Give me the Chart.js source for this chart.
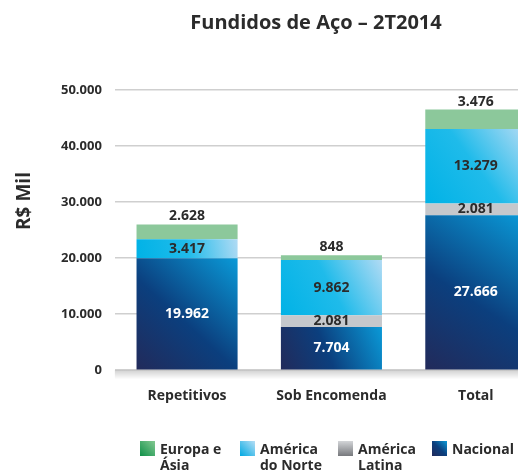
<!DOCTYPE html>
<html>
<head>
<meta charset="utf-8">
<script src="https://cdn.jsdelivr.net/npm/chart.js@4/dist/chart.umd.min.js"></script>
<style>
body { margin: 0; width: 518px; height: 474px; overflow: hidden; background: #fff; font-family: 'Open Sans', sans-serif; }
#wrap { position: relative; width: 560px; height: 474px; }
.item { position: absolute; top: 441px; display: flex; color: #2b2b2b; font-weight: 700; font-size: 14px; line-height: 16px; }
.sw { width: 15px; height: 15px; margin-right: 5px; flex: none; }
</style>
</head>
<body>
<div id="wrap">
	<canvas id="myChart" width="560" height="474"></canvas>
	<div class="item" style="left:140px"><div class="sw" style="background:linear-gradient(45deg,#0f9048,#84c992)"></div><div>Europa e<br>Ásia</div></div>
	<div class="item" style="left:240px"><div class="sw" style="background:linear-gradient(45deg,#00a9e2,#b6def5)"></div><div>América<br>do Norte</div></div>
	<div class="item" style="left:338px"><div class="sw" style="background:linear-gradient(0deg,#77797d,#d3d5d8)"></div><div>América<br>Latina</div></div>
	<div class="item" style="left:432px"><div class="sw" style="background:linear-gradient(45deg,#222a5a,#0b3f7e 50%,#0a9ad8)"></div><div>Nacional</div></div>
</div>
<script>
const categories = ['Repetitivos', 'Sob Encomenda', 'Total'];
const seriesNames = ['Nacional', 'América Latina', 'América do Norte', 'Europa e Ásia'];
const nacional = [19962, 7704, 27666];
const americaLatina = [0, 2081, 2081];
const americaNorte = [3417, 9862, 13279];
const europaAsia = [2628, 848, 3476];
const yTicks = [0, 10000, 20000, 30000, 40000, 50000];
const chartTitle = 'Fundidos de Aço – 2T2014';
const yTitle = 'R$ Mil';

function fmt(v) {
	return String(v).replace(/\B(?=(\d{3})+(?!\d))/g, '.');
}

// diagonal gradient per segment, bottom-left -> top-right
function segGradient(stops, fallback) {
	return function(ctx) {
		let chart = ctx.chart;
		let xs = chart.scales.x, ys = chart.scales.y;
		if(!xs || !ys || ctx.dataIndex === undefined) return fallback;
		let i = ctx.dataIndex, d = ctx.datasetIndex;
		let base = 0;
		for(let k = 0; k < d; k++) base += chart.data.datasets[k].data[i];
		let top = base + chart.data.datasets[d].data[i];
		let cx = xs.getPixelForValue(i);
		let y0 = ys.getPixelForValue(base), y1 = ys.getPixelForValue(top);
		if(!isFinite(cx) || !isFinite(y0) || !isFinite(y1)) return fallback;
		let g = chart.ctx.createLinearGradient(cx - 51, y0, cx + 51, y1);
		for(let s of stops) g.addColorStop(s[0], s[1]);
		return g;
	};
}

const valueLabels = {
	id: 'valueLabels',
	beforeDatasetsDraw(chart) {
		let c = chart.ctx, a = chart.chartArea;
		let g = c.createLinearGradient(0, a.bottom, 0, a.bottom + 9);
		g.addColorStop(0, 'rgba(0,0,0,0.18)');
		g.addColorStop(1, 'rgba(0,0,0,0)');
		c.save();
		c.fillStyle = g;
		c.fillRect(a.left, a.bottom, a.right - a.left, 9);
		c.restore();
	},
	afterDatasetsDraw(chart) {
		let c = chart.ctx;
		c.save();
		c.font = 'bold 14px "Open Sans"';
		c.textAlign = 'center';
		c.textBaseline = 'middle';
		let last = chart.data.datasets.length - 1;
		chart.data.datasets.forEach((ds, d) => {
			chart.getDatasetMeta(d).data.forEach((bar, i) => {
				let v = ds.data[i];
				if(!v) return;
				c.fillStyle = d === 0 ? '#ffffff' : '#2b2b2b';
				let y = d === last ? bar.y - 8 : (bar.y + bar.base) / 2;
				c.fillText(fmt(v), bar.x, y);
			});
		});
		c.fillStyle = '#2b2b2b';
		// chart title
		c.font = 'bold 20px "Open Sans"';
		c.fillText(chartTitle, 316, 23);
		// axis title
		c.translate(25, 201);
		c.rotate(-Math.PI / 2);
		c.font = 'bold 19px "Open Sans"';
		c.fillText(yTitle, 0, 0);
		c.restore();
	}
};

const ctx = document.getElementById('myChart');

new Chart(ctx, {
	type: 'bar',
	data: {
		labels: categories,
		datasets: [
			{ label: seriesNames[0], data: nacional,
				backgroundColor: segGradient([[0, '#222a5a'], [0.45, '#0b3f7e'], [1, '#0a9ad8']], '#0b3f7e') },
			{ label: seriesNames[1], data: americaLatina, backgroundColor: '#c5c8cc' },
			{ label: seriesNames[2], data: americaNorte,
				backgroundColor: segGradient([[0, '#00b2e6'], [0.5, '#1fbbea'], [1, '#b2dbf4']], '#1fbbea') },
			{ label: seriesNames[3], data: europaAsia, backgroundColor: '#8cc89b' }
		]
	},
	options: {
		responsive: false,
		animation: false,
		layout: { padding: { top: 90, left: 48, right: 12, bottom: 61 } },
		datasets: { bar: { categoryPercentage: 1, barPercentage: 0.7 } },
		plugins: {
			legend: { display: false },
			tooltip: { enabled: false }
		},
		scales: {
			x: {
				stacked: true,
				grid: { display: false },
				border: { display: false },
				ticks: { color: '#2b2b2b', padding: 9, font: { family: 'Open Sans', size: 14, weight: 'bold' } }
			},
			y: {
				stacked: true,
				min: yTicks[0],
				max: yTicks[yTicks.length - 1],
				afterBuildTicks: axis => { axis.ticks = yTicks.map(v => ({ value: v })); },
				border: { display: false },
				grid: { color: '#cfcfcf', lineWidth: 1.5, drawTicks: false },
				ticks: { color: '#2b2b2b', padding: 13, callback: v => fmt(v),
					font: { family: 'Open Sans', size: 13, weight: 'bold' } }
			}
		}
	},
	plugins: [valueLabels]
});
</script>
</body>
</html>
